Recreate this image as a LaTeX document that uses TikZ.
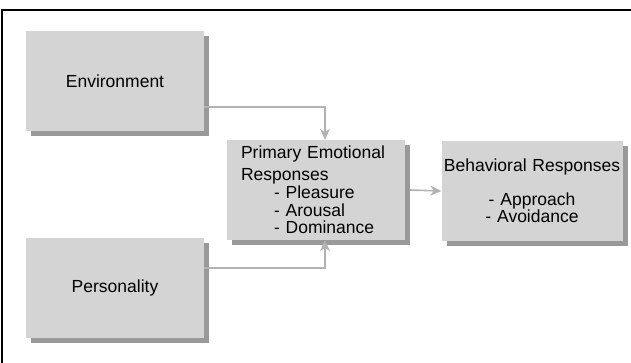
\documentclass[tikz,border=0pt]{standalone}
\usepackage{fontspec}
\setmainfont{Liberation Sans}
\usetikzlibrary{arrows.meta, shadows}
\def\boxcolor{black!17}
\def\shadecolor{black!40}
\def\linkcolor{black!30}

\begin{document}
\begin{tikzpicture}[x = 1pt, y = -1pt,
		box/.style = {fill = \boxcolor, minimum width = 178pt, minimum height = 100pt, inner sep = 0pt, font = \fontsize{17.5}{21}\selectfont, general shadow = {fill = \shadecolor, shadow xshift = 5pt, shadow yshift = -5pt}},
		link/.style = {draw = \linkcolor, line width = 1.6pt, -{Stealth[length = 11pt, width = 10pt]}}]
		\useasboundingbox (0, 0) rectangle (631, 362);
		\draw[line width = 1.6pt] (2, 10) rectangle (680, 420);
		\node[box] (env) at (115, 81) {Environment};
		\node[box] (pers) at (115, 288) {Personality};
		\node[box, text width = 150pt, align = left] (emo) at (316, 190) {Primary Emotional\\[1pt] Responses\\[-3pt] \hspace*{33pt}- Pleasure\\[-3pt] \hspace*{33pt}- Arousal\\[-4pt] \hspace*{33pt}- Dominance};
		\node[box, text width = 181pt, align = center] (beh) at (532, 191) {Behavioral Responses\\[13pt] - Approach\\[-4pt] - Avoidance};
		\draw[link] ([yshift = -26pt]env.east) -| ([xshift = 9pt]emo.north);
		\draw[link] ([yshift = 20pt]pers.east) -| ([xshift = 9pt]emo.south);
		\draw[link] ([xshift = 5pt]emo.east) -- (beh.west);
	\end{tikzpicture}
\end{document}
